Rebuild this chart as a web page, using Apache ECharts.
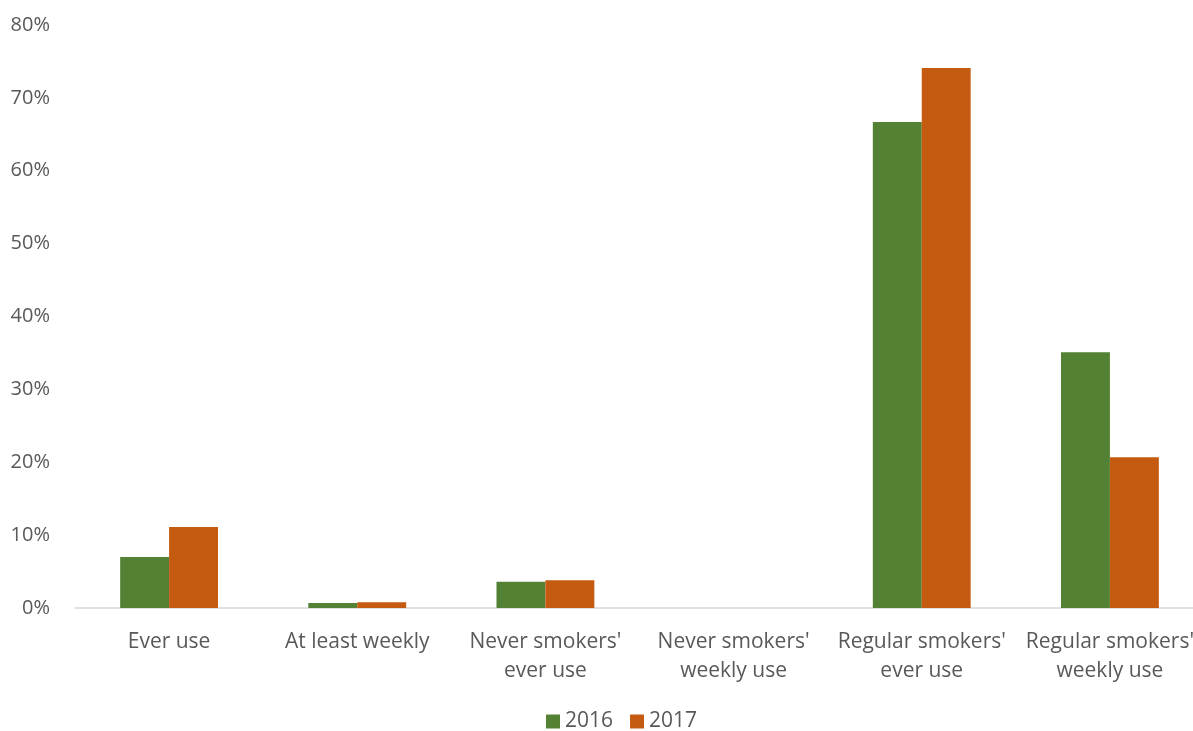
<!DOCTYPE html>
<html>
<head>
    <meta charset="utf-8">
    <title>chart</title>
    <style>
        html, body { margin: 0; padding: 0; background: #fff; }
        #chart { width: 1193px; height: 731px; }
    </style>
    <script src="https://cdn.jsdelivr.net/npm/echarts@6/dist/echarts.min.js"></script>
</head>
<body>
<div id="chart"></div>
<script>
    const categories = ["Ever use", "At least weekly", "Never smokers'\never use", "Never smokers'\nweekly use", "Regular smokers'\never use", "Regular smokers'\nweekly use"];
    const years = ['2016', '2017'];
    const values2016 = [7.0, 0.7, 3.6, 0, 66.7, 35.1];
    const values2017 = [11.1, 0.8, 3.8, 0, 74.1, 20.7];
    const yTicks = [0, 10, 20, 30, 40, 50, 60, 70, 80];

    const textColor = '#595959';
    const font = 'Open Sans, Noto Sans, sans-serif';

    echarts.init(document.getElementById('chart')).setOption({
        animation: false,
        textStyle: { fontFamily: font },
        grid: { left: 75, right: -11, top: 25, bottom: 123, outerBoundsMode: 'none', containLabel: false },
        legend: {
            data: years,
            bottom: -6,
            left: 541,
            itemWidth: 14,
            itemHeight: 14,
            itemGap: 17,
            icon: 'rect',
            textStyle: { color: textColor, fontSize: 21, fontFamily: font }
        },
        xAxis: {
            type: 'category',
            data: categories,
            axisLine: { lineStyle: { color: '#d9d9d9', width: 1.5 } },
            axisTick: { show: false },
            axisLabel: { color: textColor, fontSize: 21, lineHeight: 29, margin: 20, interval: 0 }
        },
        yAxis: {
            type: 'value',
            min: yTicks[0],
            max: yTicks[yTicks.length - 1],
            interval: 10,
            splitLine: { show: false },
            axisLine: { show: false },
            axisTick: { show: false },
            axisLabel: { color: textColor, fontSize: 20, margin: 25, formatter: '{value}%' }
        },
        series: [{
            name: years[0],
            type: 'bar',
            data: values2016,
            barGap: '0%',
            barCategoryGap: '48%',
            itemStyle: { color: '#548235' }
        }, {
            name: years[1],
            type: 'bar',
            data: values2017,
            barGap: '0%',
            barCategoryGap: '48%',
            itemStyle: { color: '#c55a11' }
        }]
    });
</script>
</body>
</html>
